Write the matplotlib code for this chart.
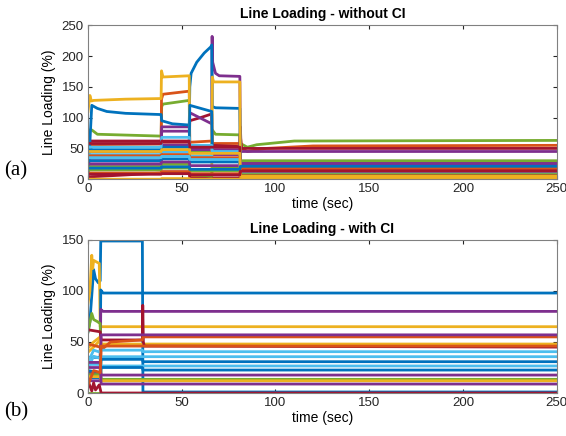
import matplotlib
matplotlib.use('Agg')
import numpy as np
import matplotlib.pyplot as plt

plt.rcParams['font.family'] = ['Liberation Sans', 'DejaVu Sans']

# MATLAB default line colours
colors = ['#0072BD', '#D95319', '#EDB120', '#7E2F8E', '#77AC30', '#4DBEEE', '#A2142F']

# ---- (a) without CI : (colour index, time points, loading points) ----
lines_a = [
    (4, [0, 1, 2, 5, 39, 39.3, 40, 54, 54.3, 66, 66.3, 68, 81, 81.3, 85, 90, 110, 250],
        [60, 80, 80, 73, 70, 118, 122, 128, 45, 44, 80, 73, 72, 58, 52, 56, 62, 63]),
    (1, [0, 39, 39.2, 40, 54, 54.3, 66, 66.3, 81, 81.2, 82, 85, 95, 120, 250],
        [56, 57, 130, 138, 143, 60, 62, 58, 58, 72, 50, 45, 50, 54, 55]),
    (6, [0, 39, 39.3, 54, 54.3, 60, 66, 66.3, 81, 81.3, 81.6, 82, 250],
        [62, 62, 60, 60, 95, 100, 106, 55, 53, 85, 55, 50, 50]),
    (3, [0, 39, 39.3, 54, 54.3, 66, 66.2, 66.5, 68, 70, 81, 81.3, 250],
        [45, 45, 55, 55, 108, 90, 232, 190, 172, 168, 167, 45, 45]),
    (3, [0, 39, 39.3, 54, 54.3, 66, 66.3, 81, 81.3, 250],
        [30, 30, 85, 85, 50, 50, 40, 40, 28, 28]),
    (3, [0, 39, 39.3, 54, 54.3, 81, 81.3, 250],
        [24, 24, 78, 78, 48, 48, 22, 22]),
    (0, [0, 1, 2, 5, 10, 20, 39, 39.3, 45, 54, 54.3, 55, 58, 62, 65.5, 66, 66.3, 68, 81, 81.3, 250],
        [0, 60, 120, 115, 110, 107, 105, 95, 90, 88, 150, 172, 190, 205, 215, 218, 118, 116, 115, 12, 12]),
    (2, [0, 1, 1.8, 3, 20, 39, 39.2, 40, 54, 54.3, 66, 66.3, 67, 81, 81.3, 250],
        [110, 136, 127, 128, 130, 131, 176, 166, 168, 3, 3, 166, 158, 158, 3, 3]),
    (0, [0, 39, 39.3, 54, 54.3, 66, 66.3, 81, 81.3, 250],
        [48, 48, 52, 52, 120, 110, 45, 44, 20, 20]),
    (5, [0, 39, 39.3, 54, 54.3, 66, 66.3, 81, 81.3, 250],
        [52, 52, 68, 68, 55, 55, 45, 45, 18, 18]),
    (5, [0, 39, 39.3, 54, 54.3, 66, 66.3, 81, 81.3, 250],
        [40, 40, 44, 44, 38, 38, 30, 30, 15, 15]),
    (1, [0, 39, 39.3, 54, 54.3, 81, 81.3, 250],
        [38, 38, 40, 40, 35, 35, 22, 22]),
    (6, [0, 2, 39, 39.3, 54, 54.3, 81, 81.3, 250],
        [3, 4, 10, 12, 12, 2, 2, 8, 8]),
    (4, [0, 39, 39.3, 54, 54.3, 66, 66.3, 81, 81.3, 250],
        [20, 20, 24, 24, 8, 5, 18, 18, 30, 30]),
    (2, [0, 39, 39.3, 54, 54.3, 81, 81.3, 250],
        [0, 0, 1, 1, 0, 0, 1, 1]),
    (0, [0, 39, 39.3, 54, 54.3, 81, 81.3, 250],
        [30, 30, 33, 33, 28, 28, 15, 15]),
    (3, [0, 39, 39.3, 54, 54.3, 81, 81.3, 250],
        [25, 25, 28, 28, 22, 22, 25, 25]),
    (4, [0, 39, 39.3, 54, 54.3, 81, 81.3, 250],
        [15, 15, 18, 18, 14, 14, 10, 10]),
    (6, [0, 39, 39.3, 54, 54.3, 81, 81.3, 250],
        [58, 58, 62, 62, 52, 52, 17, 17]),
    (5, [0, 39, 39.3, 54, 54.3, 81, 81.3, 250],
        [35, 35, 37, 37, 32, 32, 12, 12]),
    (2, [0, 39, 39.3, 54, 54.3, 81, 81.3, 250],
        [45, 45, 48, 48, 42, 42, 5, 5]),
    (1, [0, 39, 39.3, 54, 54.3, 81, 81.3, 250],
        [10, 10, 12, 12, 9, 9, 18, 18]),
    (0, [0, 39, 39.3, 54, 54.3, 81, 81.3, 250],
        [18, 18, 20, 20, 16, 16, 21, 21]),
    (6, [0, 39, 39.3, 54, 54.3, 81, 81.3, 250],
        [8, 8, 9, 9, 7, 7, 13, 13]),
]

# ---- (b) with CI ----
lines_b = [
    (0, [0, 1, 3, 4, 5.5, 6.5, 6.8, 29, 29.3, 250],
        [60, 70, 121, 112, 108, 110, 149, 149, 1, 1]),
    (2, [0, 1, 2, 2.5, 3, 5, 6, 6.5, 250],
        [88, 100, 135, 122, 130, 128, 127, 65, 65]),
    (0, [0, 6.5, 6.8, 8, 250], [35, 35, 101, 98, 98]),
    (3, [0, 6.5, 6.8, 8, 250], [20, 20, 82, 80, 80]),
    (4, [0, 2, 3, 5, 6.5, 7, 250], [60, 78, 72, 70, 68, 12, 13]),
    (2, [0, 3, 6.5, 7, 250], [40, 45, 52, 47, 47]),
    (2, [0, 3, 6.5, 7, 250], [44, 50, 55, 48, 48]),
    (6, [0, 6.5, 7, 29, 29.2, 29.5, 30, 250], [62, 60, 52, 52, 86, 50, 46, 45]),
    (1, [0, 6.5, 7, 12, 29, 29.3, 250], [48, 45, 42, 50, 52, 55, 55]),
    (3, [0, 6.5, 7, 250], [12, 12, 57, 57]),
    (5, [0, 3, 6.5, 7, 29, 29.3, 250], [30, 42, 40, 42, 42, 40.5, 40.5]),
    (5, [0, 3, 6.5, 7, 250], [25, 36, 34, 35.6, 35.6]),
    (0, [0, 6.5, 7, 29, 29.3, 250], [22, 20, 33, 33, 30.7, 30.7]),
    (5, [0, 6.5, 7, 250], [28, 28, 26.5, 26.5]),
    (0, [0, 6.5, 7, 29, 29.3, 250], [15, 15, 25, 25, 22.5, 22.5]),
    (3, [0, 6.5, 7, 250], [25, 25, 17.6, 17.6]),
    (4, [0, 6.5, 7, 250], [18, 18, 13.4, 13.4]),
    (2, [0, 6.5, 7, 250], [16, 16, 12, 12]),
    (3, [0, 6.5, 7, 250], [30, 30, 8.8, 8.8]),
    (4, [0, 250], [0, 0]),
    (6, [0, 2, 3, 4, 6, 6.5, 7, 250], [12, 2, 10, 3, 8, 4, 0, 0]),
    (1, [0, 3, 6.5, 7, 250], [8, 22, 20, 46, 46]),
]

titles = ['Line Loading - without CI', 'Line Loading - with CI']
ylims = [250, 150]
tags = ['(a)', '(b)']

fig = plt.figure(figsize=(5.66, 4.36), dpi=100)
positions = [[0.1555, 0.589, 0.828, 0.353], [0.1555, 0.0986, 0.828, 0.351]]
tag_y = [0.597, 0.045]

for k, data in enumerate([lines_a, lines_b]):
    ax = fig.add_axes(positions[k])
    for c, t, v in data:
        ax.plot(t, v, color=colors[c], lw=2)
    ax.set_xlim(0, 250)
    ax.set_ylim(0, ylims[k])
    ax.set_xticks(np.arange(0, 251, 50))
    ax.set_yticks(np.arange(0, ylims[k] + 1, 50))
    ax.tick_params(direction='in', top=True, right=True, length=3,
                   labelsize=9.5, colors='#262626', pad=3)
    for s in ax.spines.values():
        s.set_color('#808080')
        s.set_linewidth(0.8)
    ax.set_title(titles[k], fontsize=10, fontweight='bold', pad=5)
    ax.set_xlabel('time (sec)', fontsize=10, labelpad=1)
    ax.set_ylabel('Line Loading (%)', fontsize=10, labelpad=4)
    fig.text(0.008, tag_y[k], tags[k], fontsize=15, family='Liberation Serif')

fig.savefig('out.png', dpi=100)
